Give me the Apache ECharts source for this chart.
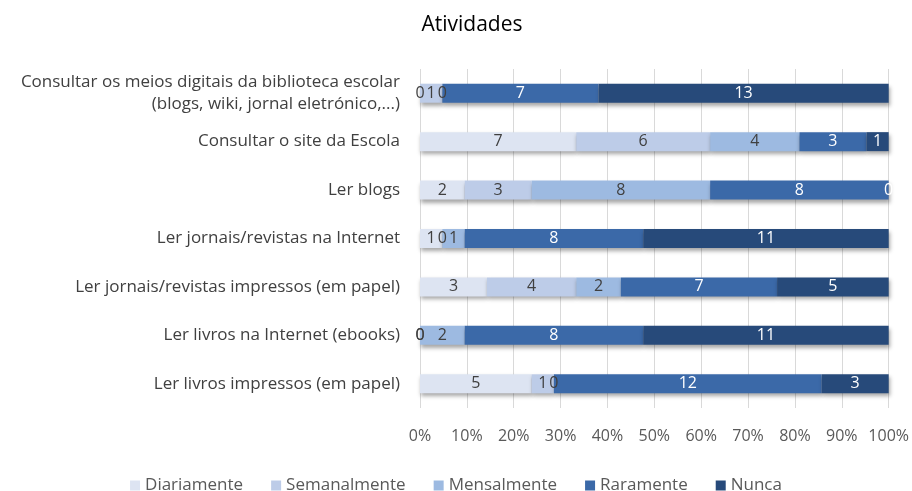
<!DOCTYPE html>
<html>
<head>
<meta charset="utf-8">
<script src="https://cdn.jsdelivr.net/npm/echarts@6/dist/echarts.min.js"></script>
<style>
  html, body { margin: 0; padding: 0; background: #fff; }
  #main { width: 912px; height: 491px; }
</style>
</head>
<body>
<div id="main"></div>
<script>
// categorias, de baixo para cima (como no eixo do echarts)
var categories = [
  'Ler livros impressos (em papel)',
  'Ler livros na Internet (ebooks)',
  'Ler jornais/revistas impressos (em papel)',
  'Ler jornais/revistas na Internet',
  'Ler blogs',
  'Consultar o site da Escola',
  'Consultar os meios digitais da biblioteca escolar\n(blogs, wiki, jornal eletrónico,...)'
];
var diariamente  = [5, 0, 3, 1, 2, 7, 0];
var semanalmente = [1, 0, 4, 0, 3, 6, 1];
var mensalmente  = [0, 2, 2, 1, 8, 4, 0];
var raramente    = [12, 8, 7, 8, 8, 3, 7];
var nunca        = [3, 11, 5, 11, 0, 1, 13];
var xTicks = [0, 10, 20, 30, 40, 50, 60, 70, 80, 90, 100];

var seriesDef = [
  { name: 'Diariamente', data: diariamente, color: '#dde4f2', label: '#404040' },
  { name: 'Semanalmente', data: semanalmente, color: '#bdcce8', label: '#404040' },
  { name: 'Mensalmente', data: mensalmente, color: '#9dbae1', label: '#404040' },
  { name: 'Raramente', data: raramente, color: '#3b69a8', label: '#ffffff' },
  { name: 'Nunca', data: nunca, color: '#274a7a', label: '#ffffff' }
];

// total de cada linha para o empilhado a 100%
var totals = categories.map(function (c, i) {
  var s = 0;
  seriesDef.forEach(function (d) { s += d.data[i]; });
  return s;
});

var font = '"Open Sans", Lato, sans-serif';

var chart = echarts.init(document.getElementById('main'), null, { renderer: 'canvas' });
var option = {
  animation: false,
  textStyle: { fontFamily: font },
  title: {
    text: 'Atividades',
    left: 467,
    textAlign: 'center',
    top: 10,
    textStyle: { fontFamily: font, fontSize: 21, fontWeight: 'normal', color: '#000' }
  },
  legend: {
    top: 472,
    left: 'center',
    icon: 'rect',
    itemWidth: 10,
    itemHeight: 10,
    itemGap: 28,
    textStyle: { fontFamily: font, fontSize: 17, color: '#595959' },
    data: seriesDef.map(function (d) { return d.name; })
  },
  grid: { left: 420, right: 22, top: 69, bottom: 83 },
  xAxis: {
    type: 'value',
    min: 0,
    max: 100,
    interval: 10,
    axisLine: { show: false },
    axisTick: { show: false },
    splitLine: { lineStyle: { color: '#d9d9d9' } },
    axisLabel: {
      margin: 20,
      fontFamily: font,
      fontSize: 16,
      color: '#595959',
      formatter: function (v) { return xTicks.indexOf(v) >= 0 ? v + '%' : ''; }
    }
  },
  yAxis: {
    type: 'category',
    data: categories,
    axisLine: { show: false },
    axisTick: { show: false },
    axisLabel: {
      margin: 20,
      fontFamily: font,
      fontSize: 17,
      color: '#404040',
      lineHeight: 22
    }
  },
  series: seriesDef.map(function (d) {
    return {
      name: d.name,
      type: 'bar',
      stack: 'total',
      barWidth: 19,
      itemStyle: {
        color: d.color,
        shadowColor: 'rgba(0,0,0,0.35)',
        shadowBlur: 4,
        shadowOffsetY: 3,
        shadowOffsetX: 1
      },
      label: {
        show: true,
        position: 'inside',
        fontFamily: font,
        fontSize: 16,
        color: d.label,
        formatter: function (p) { return d.data[p.dataIndex]; }
      },
      data: d.data.map(function (v, i) { return v / totals[i] * 100; })
    };
  })
};
chart.setOption(option);
</script>
</body>
</html>
